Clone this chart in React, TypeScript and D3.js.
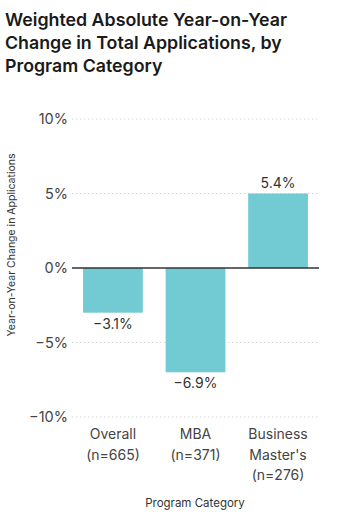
import React from "react";
import * as d3 from "d3";

const categories = ["Overall", "MBA", "Business Master's"];
const categoryLabelLines = [
  ["Overall", "(n=665)"],
  ["MBA", "(n=371)"],
  ["Business", "Master's", "(n=276)"],
];
const barValues = [-3, -7, 5];
const labelValues = [-3.1, -6.9, 5.4];
const yTicks = [10, 5, 0, -5, -10];
const titleLines = [
  "Weighted Absolute Year-on-Year",
  "Change in Total Applications, by",
  "Program Category",
];

const W = 347;
const H = 523;
const FONT = "Inter, 'Noto Sans', sans-serif";

export default function App() {
  const x = d3
    .scaleBand<string>()
    .domain(categories)
    .range([72, 319])
    .paddingInner(0.276)
    .paddingOuter(0.134);
  const y = d3.scaleLinear().domain([-10, 10]).range([417, 119]);
  const fmt = (v: number) => `${v.toFixed(1).replace("-", "−")}%`;
  const tfmt = (v: number) => `${String(v).replace("-", "−")}%`;

  return (
    <svg
      width={W}
      height={H}
      style={{ position: "absolute", left: 0, top: 0, background: "#fff" }}
      fontFamily={FONT}
    >
      {titleLines.map((t, i) => (
        <text
          key={i}
          x={5}
          y={26 + i * 23}
          fontSize={17.8}
          fontWeight={600}
          fill="#1a1a1a"
        >
          {t}
        </text>
      ))}
      {yTicks.map((t) => (
        <g key={t}>
          {t !== 0 && (
            <line
              x1={72}
              x2={319}
              y1={y(t)}
              y2={y(t)}
              stroke="#d6d6d6"
              strokeWidth={1}
              strokeDasharray="1.5,2.5"
            />
          )}
          <text
            x={68}
            y={y(t)}
            dy="0.35em"
            textAnchor="end"
            fontSize={14.5}
            fill="#444"
          >
            {tfmt(t)}
          </text>
        </g>
      ))}
      {categories.map((c, i) => {
        const v = barValues[i];
        const y0 = y(Math.max(0, v));
        const y1 = y(Math.min(0, v));
        return (
          <rect
            key={c}
            x={x(c)}
            y={y0}
            width={x.bandwidth()}
            height={y1 - y0}
            fill="#72CBD3"
          />
        );
      })}
      <line x1={72} x2={319} y1={y(0)} y2={y(0)} stroke="#333" strokeWidth={1.3} />
      {categories.map((c, i) => {
        const v = barValues[i];
        const cx = (x(c) as number) + x.bandwidth() / 2;
        const ly = v >= 0 ? y(v) - 6 : y(v) + 16;
        return (
          <text key={c} x={cx} y={ly} textAnchor="middle" fontSize={14} fill="#333">
            {fmt(labelValues[i])}
          </text>
        );
      })}
      {categories.map((c, i) => {
        const cx = (x(c) as number) + x.bandwidth() / 2;
        return (
          <text key={c} x={cx} y={439} textAnchor="middle" fontSize={14} fill="#444">
            {categoryLabelLines[i].map((l, j) => (
              <tspan key={j} x={cx} dy={j === 0 ? 0 : 20.5}>
                {l}
              </tspan>
            ))}
          </text>
        );
      })}
      <text x={195} y={507} textAnchor="middle" fontSize={11.5} fill="#333">
        Program Category
      </text>
      <text
        transform={`translate(15,245) rotate(-90)`}
        textAnchor="middle"
        fontSize={10.5}
        fill="#333"
      >
        Year-on-Year Change in Applications
      </text>
    </svg>
  );
}
